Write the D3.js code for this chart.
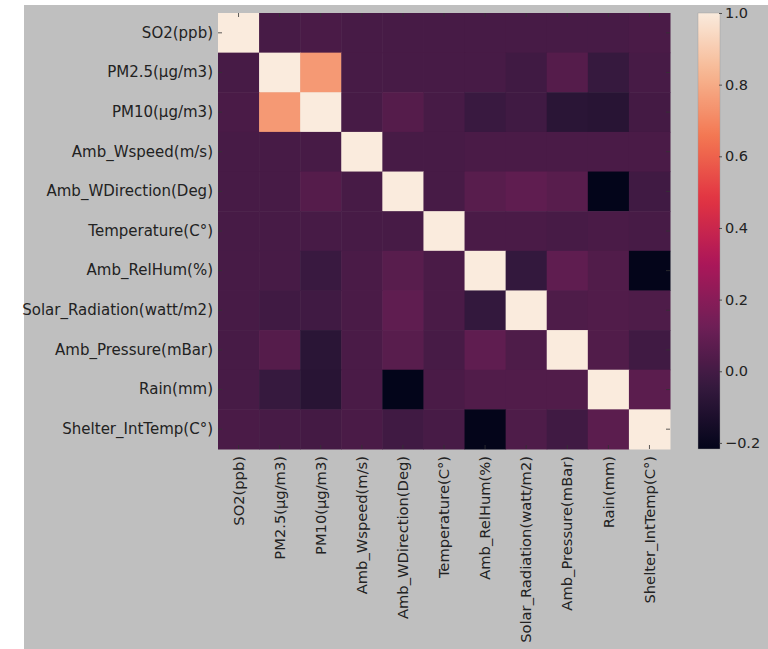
<!DOCTYPE html>
<html>
<head>
<meta charset="utf-8">
<script src="https://cdn.jsdelivr.net/npm/d3@7"></script>
<style>
  html, body { margin: 0; padding: 0; background: #ffffff; }
  svg { display: block; font-family: "DejaVu Sans", sans-serif; }
</style>
</head>
<body>
<div id="viz-corr"></div>
<script>
// variable names (rows and columns of the correlation matrix)
const variables = [
    "SO2(ppb)", "PM2.5(µg/m3)", "PM10(µg/m3)", "Amb_Wspeed(m/s)",
    "Amb_WDirection(Deg)", "Temperature(C°)", "Amb_RelHum(%)",
    "Solar_Radiation(watt/m2)", "Amb_Pressure(mBar)", "Rain(mm)", "Shelter_IntTemp(C°)"
];

// correlation values (one row per variable)
const corrRows = [
    [ 1.00,  0.01,  0.02,  0.01,  0.01,  0.01,  0.01,  0.01,  0.01,  0.01,  0.02],
    [ 0.01,  1.00,  0.75,  0.01,  0.01,  0.01,  0.01, -0.01,  0.05, -0.04,  0.01],
    [ 0.02,  0.75,  1.00,  0.01,  0.05,  0.01, -0.03, -0.01, -0.08, -0.09,  0.00],
    [ 0.01,  0.01,  0.01,  1.00,  0.01,  0.01,  0.02,  0.02,  0.02,  0.02,  0.02],
    [ 0.01,  0.01,  0.05,  0.01,  1.00,  0.01,  0.06,  0.08,  0.06, -0.217, -0.01],
    [ 0.01,  0.01,  0.01,  0.01,  0.01,  1.00,  0.02,  0.02,  0.01,  0.02,  0.01],
    [ 0.01,  0.01, -0.03,  0.02,  0.06,  0.02,  1.00, -0.05,  0.08,  0.04, -0.215],
    [ 0.01, -0.01, -0.01,  0.02,  0.08,  0.02, -0.05,  1.00,  0.03,  0.04,  0.03],
    [ 0.01,  0.05, -0.08,  0.02,  0.06,  0.01,  0.08,  0.03,  1.00,  0.04, -0.01],
    [ 0.01, -0.04, -0.09,  0.02, -0.217, 0.02,  0.04,  0.04,  0.04,  1.00,  0.07],
    [ 0.02,  0.01,  0.00,  0.02, -0.01,  0.01, -0.215, 0.03, -0.01,  0.07,  1.00]
];

// colorbar tick labels
const colorbarTicks = [-0.2, 0.0, 0.2, 0.4, 0.6, 0.8, 1.0];

// seaborn "rocket" colormap anchor colours (evenly spaced)
const rocketStops = ["#03051a", "#35193e", "#701f57", "#ad1759", "#e13342", "#f37651", "#f6b48f", "#faebdd"];

const W = 768, H = 649;
const heat = { left: 218, top: 13, right: 670, bottom: 449 };
const bar = { left: 698, right: 720 };

const svg = d3.select("#viz-corr")
    .append("svg")
    .attr("width", W)
    .attr("height", H);

// grey figure background (picture is cropped on the left/top)
svg.append("rect")
    .attr("x", 24).attr("y", 5)
    .attr("width", W - 24).attr("height", H - 5)
    .attr("fill", "#bfbfbf");

// flatten the matrix into cells
const cells = [];
corrRows.forEach((row, i) => {
    row.forEach((v, j) => cells.push({ row: variables[i], col: variables[j], value: v }));
});

const vmin = d3.min(cells, d => d.value);
const vmax = d3.max(cells, d => d.value);

const rocket = d3.piecewise(d3.interpolateRgb, rocketStops);
const color = d3.scaleSequential(rocket).domain([vmin, vmax]);

const x = d3.scaleBand().domain(variables).range([heat.left, heat.right]);
const y = d3.scaleBand().domain(variables).range([heat.top, heat.bottom]);

// heatmap cells
svg.append("g")
    .selectAll("rect")
    .data(cells)
    .join("rect")
    .attr("x", d => x(d.col))
    .attr("y", d => y(d.row))
    .attr("width", x.bandwidth() + 0.5)
    .attr("height", y.bandwidth() + 0.5)
    .attr("fill", d => color(d.value));

// axes: classic style, ticks pointing inwards on all four sides
const tickColor = "#333";
function styleAxis(g) {
    g.select(".domain").remove();
    g.selectAll(".tick line").attr("stroke", tickColor).attr("stroke-width", 0.8);
    g.selectAll("text")
        .attr("fill", "#222")
        .style("font-family", "'DejaVu Sans', sans-serif");
}

svg.append("g")
    .attr("transform", `translate(${heat.left},0)`)
    .call(d3.axisLeft(y).tickSize(-4).tickPadding(5))
    .call(styleAxis)
    .selectAll("text")
    .style("font-size", "15px");

svg.append("g")
    .attr("transform", `translate(${heat.right},0)`)
    .call(d3.axisRight(y).tickSize(-4).tickFormat(""))
    .call(styleAxis);

svg.append("g")
    .attr("transform", `translate(0,${heat.top})`)
    .call(d3.axisTop(x).tickSize(-4).tickFormat(""))
    .call(styleAxis);

const xAxis = svg.append("g")
    .attr("transform", `translate(0,${heat.bottom})`)
    .call(d3.axisBottom(x).tickSize(-4))
    .call(styleAxis);

xAxis.selectAll("text")
    .style("font-size", "14.7px")
    .attr("text-anchor", "end")
    .attr("transform", "rotate(-90)")
    .attr("x", -7)
    .attr("y", 0)
    .attr("dy", "0.35em");

// colorbar
const cScale = d3.scaleLinear().domain([vmin, vmax]).range([heat.bottom, heat.top]);

const grad = svg.append("defs")
    .append("linearGradient")
    .attr("id", "rocket-grad")
    .attr("x1", 0).attr("y1", 1).attr("x2", 0).attr("y2", 0);

d3.range(0, 1.0001, 0.02).forEach(t => {
    grad.append("stop")
        .attr("offset", t)
        .attr("stop-color", rocket(t));
});

svg.append("rect")
    .attr("x", bar.left)
    .attr("y", heat.top)
    .attr("width", bar.right - bar.left)
    .attr("height", heat.bottom - heat.top)
    .attr("fill", "url(#rocket-grad)")
    .attr("stroke", "#9a9a9a")
    .attr("stroke-width", 0.4);

svg.append("g")
    .attr("transform", `translate(${bar.right - 1},0)`)
    .call(d3.axisRight(cScale)
        .tickValues(colorbarTicks)
        .tickSize(3)
        .tickPadding(3)
        .tickFormat(d3.format(".1f")))
    .call(styleAxis)
    .selectAll("text")
    .style("font-size", "14.5px");
</script>
</body>
</html>
